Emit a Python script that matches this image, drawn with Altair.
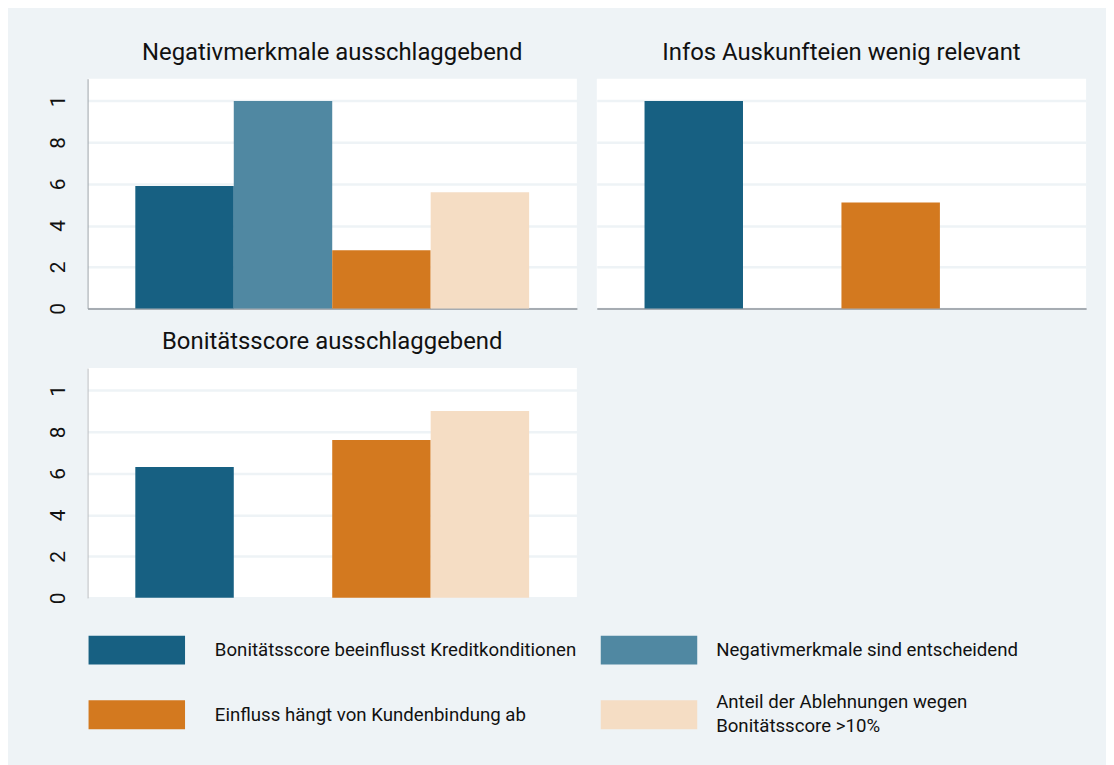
import altair as alt
import pandas as pd

# ---- data -------------------------------------------------------------
panels = [
    "Negativmerkmale ausschlaggebend",
    "Infos Auskunfteien wenig relevant",
    "Bonitätsscore ausschlaggebend",
]
categories = [
    "Bonitätsscore beeinflusst Kreditkonditionen",
    "Negativmerkmale sind entscheidend",
    "Einfluss hängt von Kundenbindung ab",
    "Anteil der Ablehnungen wegen Bonitätsscore >10%",
]
legend_lines = {
    "Anteil der Ablehnungen wegen Bonitätsscore >10%": ["Anteil der Ablehnungen wegen", "Bonitätsscore >10%"],
}
colors = ["#176082", "#5088a2", "#d3791f", "#f5ddc4"]

values_panel1 = [0.59, 1.00, 0.28, 0.56]
values_panel2 = [1.00, None, 0.51, None]
values_panel3 = [0.63, None, 0.76, 0.90]

y_tick_values = [0, 0.2, 0.4, 0.6, 0.8, 1]
y_tick_labels = ["0", "2", "4", "6", "8", "1"]

# ---- helpers ----------------------------------------------------------
def frame(vals):
    rows = [{"cat": c, "value": v} for c, v in zip(categories, vals) if v is not None]
    return pd.DataFrame(rows)

label_expr = " : ".join(
    f"datum.value == {v} ? '{l}'" for v, l in zip(y_tick_values, y_tick_labels)
) + " : datum.label"

legend_expr = " : ".join(
    f"datum.label == '{k}' ? {lines!r}" for k, lines in legend_lines.items()
) + " : datum.label"

legend_baseline_expr = " : ".join(
    f"datum.label == '{k}' ? 'line-bottom'" for k in legend_lines
) + " : 'middle'"

BG = "#eef3f6"
GRID = "#eef3f6"
FONT = "Roboto"

color_scale = alt.Scale(domain=categories, range=colors)


def panel(title, vals, show_y_labels, show_y_domain, show_x_domain, domain_color):
    x_axis = alt.Axis(
        labels=False, ticks=False, title=None, grid=False,
        domain=show_x_domain, domainColor="#8e949b", domainWidth=1.5,
    )
    y_axis = alt.Axis(
        values=y_tick_values, labelExpr=label_expr, labelAngle=-90,
        labels=show_y_labels, ticks=False, title=None,
        grid=True, gridColor=GRID, gridWidth=2.5,
        domain=show_y_domain, domainColor=domain_color, domainWidth=1,
        labelFontSize=21, labelFont=FONT, labelColor="#111111",
        labelPadding=19,
    )
    return (
        alt.Chart(frame(vals))
        .mark_bar()
        .encode(
            x=alt.X("cat:N", sort=categories,
                    scale=alt.Scale(domain=categories, paddingInner=0, paddingOuter=0.485),
                    axis=x_axis),
            y=alt.Y("value:Q", scale=alt.Scale(domain=[0, 1.107], nice=False, zero=True),
                    axis=y_axis),
            color=alt.Color(
                "cat:N", scale=color_scale, sort=categories,
                legend=alt.Legend(
                    title=None, orient="none", legendX=1, legendY=560,
                    columns=2, direction="horizontal",
                    symbolType="M-1,-1H5.69V1H-1Z", symbolSize=841,
                    symbolStrokeWidth=0, symbolOpacity=1,
                    labelOffset={"expr": "datum.index % 2 == 1 ? 87 : 98"},
                    labelFontSize=18.75, labelFont=FONT,
                    labelColor="#111111", labelLimit=0,
                    labelExpr=legend_expr,
                    labelBaseline={"expr": legend_baseline_expr},
                    columnPadding=24, rowPadding=28,
                ),
            ),
        )
        .properties(
            width=492, height=231,
            title=alt.Title(title, fontSize=24, font=FONT, fontWeight="normal",
                            color="#111111", anchor="middle", frame="group", offset=14),
        )
    )


p1 = panel(panels[0], values_panel1, True, True, True, "#9aa0a6")
p2 = panel(panels[1], values_panel2, False, False, True, "#9aa0a6")
p3 = panel(panels[2], values_panel3, True, True, False, "#b8bcc0")

chart = (
    alt.vconcat(alt.hconcat(p1, p2, spacing=20), p3, spacing=16)
    .properties(background=BG, padding={"left": 40, "top": 31, "right": 20, "bottom": 30})
    .configure(style={"guide-label": {"lineHeight": 24}})
    .configure_view(fill="white", stroke=None)
    .configure_concat(spacing=20)
)

chart.save("out.html", embed_options={"renderer": "svg", "actions": False})
